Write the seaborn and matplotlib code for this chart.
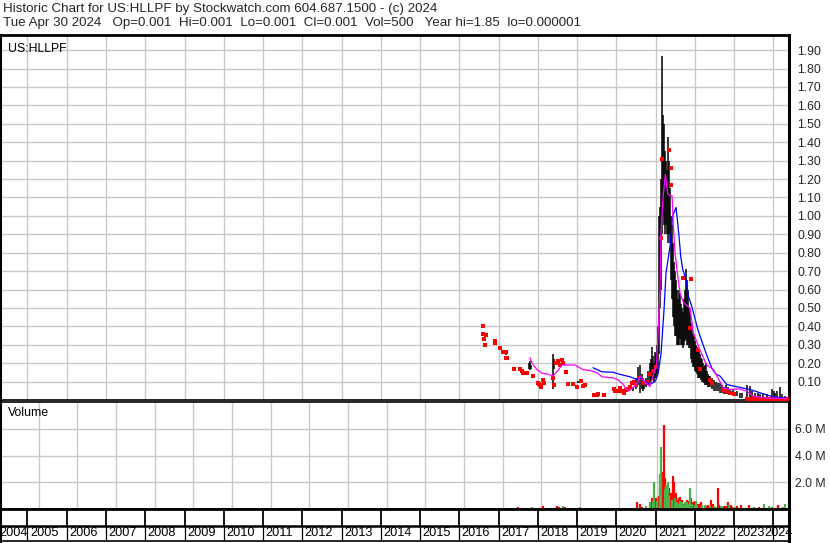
import matplotlib
matplotlib.use("Agg")
import matplotlib.pyplot as plt
import seaborn as sns
import pandas as pd

# ---------------- data (decimal years) ----------------
years = list(range(2004, 2025))
price_ticks = [0.10, 0.20, 0.30, 0.40, 0.50, 0.60, 0.70, 0.80, 0.90, 1.00,
               1.10, 1.20, 1.30, 1.40, 1.50, 1.60, 1.70, 1.80, 1.90]
vol_ticks = [2e6, 4e6, 6e6]
vol_tick_labels = ["2.0 M", "4.0 M", "6.0 M"]

# high/low price bars
bar_year = [2017.183, 2017.770, 2017.795, 2017.820, 2018.389, 2018.420, 2019.018, 2019.415,
            2019.925, 2020.419, 2020.504, 2020.529, 2020.554, 2020.605, 2020.656, 2020.680,
            2020.707, 2020.758, 2020.809, 2020.860, 2020.885, 2020.911, 2020.936, 2020.962,
            2020.988, 2021.013, 2021.040, 2021.064, 2021.090, 2021.115, 2021.140, 2021.166,
            2021.191, 2021.217, 2021.242, 2021.268, 2021.293, 2021.319, 2021.344, 2021.370,
            2021.395, 2021.421, 2021.446, 2021.472, 2021.497, 2021.523, 2021.548, 2021.574,
            2021.599, 2021.625, 2021.650, 2021.676, 2021.701, 2021.726, 2021.752, 2021.777,
            2021.800, 2021.828, 2021.850, 2021.879, 2021.905, 2021.930, 2021.956, 2021.981,
            2022.007, 2022.032, 2022.060, 2022.083, 2022.110, 2022.134, 2022.160, 2022.185,
            2022.211, 2022.236, 2022.260, 2022.287, 2022.312, 2022.338, 2022.360, 2022.389,
            2022.440, 2022.491, 2022.542, 2022.593, 2022.644, 2022.695, 2022.746, 2022.797,
            2022.847, 2022.898, 2022.975, 2023.077, 2023.153, 2023.200, 2023.320, 2023.408,
            2023.450, 2023.536, 2023.600, 2023.663, 2023.750, 2023.841, 2023.960, 2024.019,
            2024.050, 2024.090, 2024.172, 2024.230, 2024.299]
bar_low = [0.245, 0.17, 0.165, 0.17, 0.06, 0.17, 0.09, 0.02,
           0.05, 0.05, 0.06, 0.07, 0.08, 0.04, 0.06, 0.05,
           0.06, 0.07, 0.08, 0.09, 0.10, 0.12, 0.11, 0.10,
           0.12, 0.12, 0.14, 0.15, 0.25, 0.50, 0.60, 0.90,
           1.00, 0.95, 0.90, 0.95, 0.90, 0.85, 0.90, 0.85,
           0.65, 0.55, 0.45, 0.40, 0.35, 0.35, 0.30, 0.30,
           0.30, 0.33, 0.30, 0.30, 0.28, 0.30, 0.32, 0.33,
           0.30, 0.30, 0.28, 0.28, 0.22, 0.20, 0.18, 0.18,
           0.16, 0.15, 0.14, 0.12, 0.12, 0.12, 0.11, 0.10,
           0.10, 0.09, 0.08, 0.08, 0.08, 0.07, 0.07, 0.07,
           0.06, 0.05, 0.05, 0.05, 0.04, 0.04, 0.03, 0.03,
           0.03, 0.03, 0.02, 0.02, 0.01, 0.01, 0.00, 0.01,
           0.01, 0.01, 0.005, 0.005, 0.005, 0.005, 0.005, 0.005,
           0.005, 0.005, 0.005, 0.005, 0.005]
bar_high = [0.265, 0.20, 0.21, 0.19, 0.25, 0.22, 0.105, 0.03,
            0.06, 0.07, 0.12, 0.10, 0.18, 0.19, 0.14, 0.12,
            0.10, 0.12, 0.16, 0.20, 0.22, 0.29, 0.24, 0.20,
            0.26, 0.25, 0.30, 0.40, 1.00, 1.05, 1.20, 1.87,
            1.55, 1.50, 1.35, 1.30, 1.25, 1.43, 1.30, 1.15,
            1.00, 0.95, 0.85, 0.75, 0.70, 0.65, 0.60, 0.55,
            0.60, 0.58, 0.52, 0.50, 0.48, 0.55, 0.60, 0.71,
            0.65, 0.60, 0.50, 0.48, 0.42, 0.40, 0.36, 0.35,
            0.32, 0.30, 0.29, 0.28, 0.26, 0.25, 0.23, 0.22,
            0.20, 0.18, 0.19, 0.20, 0.16, 0.14, 0.13, 0.13,
            0.12, 0.11, 0.10, 0.09, 0.09, 0.08, 0.07, 0.08,
            0.07, 0.06, 0.06, 0.05, 0.04, 0.04, 0.08, 0.075,
            0.05, 0.04, 0.04, 0.03, 0.03, 0.03, 0.06, 0.05,
            0.04, 0.05, 0.07, 0.03, 0.02]

# single-trade / down-day closes (red squares)
dot_year = [2016.605, 2016.605, 2016.682, 2016.630, 2016.656, 2016.911, 2016.911, 2017.038,
            2017.115, 2017.191, 2017.191, 2017.217, 2017.395, 2017.548, 2017.599, 2017.624,
            2017.726, 2017.879, 2018.000, 2018.030, 2018.058, 2018.083, 2018.134, 2018.160,
            2018.400, 2018.420, 2018.470, 2018.520, 2018.567, 2018.618, 2018.644, 2018.720,
            2018.771, 2018.898, 2019.000, 2019.102, 2019.153, 2019.204, 2019.433, 2019.510,
            2019.535, 2019.688, 2019.943, 2019.970, 2020.045, 2020.100, 2020.150, 2020.200,
            2020.250, 2020.300, 2020.350, 2020.400, 2020.450, 2020.500, 2020.580, 2020.700,
            2020.780, 2020.850, 2020.930, 2021.000, 2021.140, 2021.178, 2021.344, 2021.387,
            2021.404, 2021.701, 2021.905, 2021.870, 2022.083, 2022.134, 2022.389, 2022.440,
            2022.720, 2022.805, 2022.900, 2023.000, 2023.330, 2023.400, 2023.480, 2023.560,
            2023.640, 2023.720, 2023.800, 2023.880, 2023.960, 2024.040, 2024.120, 2024.200,
            2024.280, 2024.340]
dot_price = [0.40, 0.36, 0.355, 0.33, 0.30, 0.32, 0.31, 0.285,
             0.26, 0.26, 0.23, 0.23, 0.17, 0.17, 0.155, 0.145,
             0.145, 0.13, 0.09, 0.085, 0.08, 0.07, 0.11, 0.09,
             0.12, 0.08, 0.20, 0.21, 0.19, 0.215, 0.20, 0.15,
             0.085, 0.085, 0.07, 0.105, 0.075, 0.08, 0.025, 0.025,
             0.03, 0.025, 0.06, 0.05, 0.05, 0.065, 0.05, 0.04,
             0.055, 0.06, 0.07, 0.09, 0.10, 0.08, 0.12, 0.09,
             0.10, 0.14, 0.16, 0.18, 0.88, 1.31, 1.36, 1.26,
             1.165, 0.665, 0.655, 0.39, 0.27, 0.166, 0.11, 0.09,
             0.057, 0.05, 0.04, 0.03, 0.005, 0.005, 0.005, 0.005,
             0.005, 0.005, 0.005, 0.005, 0.005, 0.005, 0.005, 0.005,
             0.005, 0.005]

# short moving average (magenta)
ma_short_year = [2017.803, 2017.854, 2017.981, 2018.109, 2018.261, 2018.389, 2018.491, 2018.618,
                 2018.822, 2018.949, 2019.153, 2019.331, 2019.510, 2019.637, 2019.917, 2020.045,
                 2020.172, 2020.300, 2020.427, 2020.554, 2020.605, 2020.733, 2020.860, 2021.030,
                 2021.115, 2021.140, 2021.191, 2021.252, 2021.310, 2021.370, 2021.421, 2021.455,
                 2021.497, 2021.556, 2021.625, 2021.710, 2021.812, 2021.879, 2021.965, 2022.134,
                 2022.304, 2022.474, 2022.728, 2022.898, 2023.153, 2023.323, 2023.493, 2023.833,
                 2024.350]
ma_short_val = [0.23, 0.20, 0.165, 0.145, 0.14, 0.13, 0.155, 0.19,
                0.19, 0.19, 0.165, 0.16, 0.148, 0.126, 0.12, 0.11,
                0.085, 0.048, 0.066, 0.10, 0.13, 0.095, 0.073, 0.20,
                0.60, 0.91, 1.10, 1.225, 1.12, 1.11, 1.11, 0.945,
                0.80, 0.69, 0.58, 0.53, 0.51, 0.50, 0.365, 0.27,
                0.19, 0.166, 0.066, 0.057, 0.06, 0.048, 0.02, 0.01,
                0.008]

# long moving average (blue)
ma_long_year = [2019.408, 2019.637, 2019.917, 2020.096, 2020.351, 2020.529, 2020.605, 2020.733,
                2020.860, 2020.988, 2021.064, 2021.140, 2021.217, 2021.268, 2021.370, 2021.438,
                2021.523, 2021.556, 2021.607, 2021.642, 2021.692, 2021.777, 2021.837, 2021.921,
                2022.083, 2022.211, 2022.312, 2022.440, 2022.542, 2022.644, 2022.814, 2023.069,
                2023.408, 2023.739, 2023.994, 2024.350]
ma_long_val = [0.175, 0.153, 0.151, 0.139, 0.126, 0.111, 0.12, 0.10,
               0.085, 0.10, 0.14, 0.25, 0.49, 0.69, 0.835, 1.00,
               1.046, 0.98, 0.87, 0.78, 0.71, 0.655, 0.565, 0.51,
               0.38, 0.30, 0.24, 0.17, 0.14, 0.13, 0.084, 0.072,
               0.057, 0.034, 0.017, 0.01]

# volume bars (millions of shares) and day direction
vol_year = [2016.58, 2016.70, 2016.80, 2016.95, 2017.05, 2017.20, 2017.30, 2017.40,
            2017.55, 2017.65, 2017.75, 2017.85, 2018.03, 2018.10, 2018.40, 2018.45,
            2018.50, 2018.55, 2018.62, 2018.75, 2018.90, 2019.00, 2019.10, 2019.20,
            2019.45, 2019.70, 2019.80, 2019.95, 2020.05, 2020.20, 2020.35, 2020.48,
            2020.554, 2020.605, 2020.70, 2020.809, 2020.860, 2020.885, 2020.911, 2020.962,
            2020.988, 2021.031, 2021.064, 2021.097, 2021.133, 2021.158, 2021.184, 2021.199,
            2021.224, 2021.260, 2021.286, 2021.311, 2021.344, 2021.370, 2021.413, 2021.439,
            2021.472, 2021.497, 2021.540, 2021.581, 2021.625, 2021.668, 2021.709, 2021.752,
            2021.795, 2021.835, 2021.879, 2021.922, 2021.963, 2022.007, 2022.050, 2022.134,
            2022.218, 2022.305, 2022.389, 2022.473, 2022.575, 2022.644, 2022.728, 2022.814,
            2022.898, 2022.983, 2023.153, 2023.237, 2023.365, 2023.492, 2023.620, 2023.747,
            2023.874, 2024.002, 2024.129, 2024.241, 2024.299,
            2021.045, 2021.075, 2021.110, 2021.172, 2021.212, 2021.236, 2021.248, 2021.273,
            2021.298, 2021.324, 2021.357, 2021.385, 2021.400, 2021.426, 2021.452, 2021.485,
            2021.510, 2021.525, 2021.555, 2021.568, 2021.595, 2021.610, 2021.640, 2021.655,
            2021.720, 2021.770, 2021.810, 2021.850, 2021.900, 2021.940, 2021.980, 2022.030,
            2022.090, 2022.160, 2022.250, 2022.350, 2022.430, 2022.520, 2022.600, 2022.680,
            2022.770, 2022.850, 2022.940, 2023.050, 2023.300, 2023.550, 2023.700, 2023.950,
            2024.180]
vol_m = [0.10, 0.08, 0.10, 0.10, 0.09, 0.10, 0.08, 0.12,
         0.09, 0.10, 0.12, 0.10, 0.20, 0.10, 0.25, 0.18,
         0.10, 0.20, 0.12, 0.10, 0.08, 0.15, 0.10, 0.10,
         0.08, 0.08, 0.08, 0.10, 0.08, 0.10, 0.10, 0.55,
         0.40, 0.15, 0.20, 0.50, 0.80, 0.60, 2.05, 0.80,
         0.60, 1.00, 2.60, 4.60, 2.80, 6.30, 2.30, 1.50,
         1.10, 2.00, 1.40, 1.00, 1.20, 0.70, 2.50, 1.50,
         1.20, 0.50, 0.60, 0.90, 0.50, 0.40, 0.50, 0.70,
         0.40, 1.60, 0.80, 0.50, 0.30, 0.60, 0.40, 0.50,
         0.30, 0.30, 0.70, 0.20, 1.60, 0.20, 0.25, 0.50,
         0.30, 0.12, 0.30, 0.10, 0.30, 0.15, 0.15, 0.35,
         0.20, 0.10, 0.30, 0.15, 0.35,
         0.90, 1.50, 1.20, 1.60, 1.80, 0.80, 1.30, 0.90,
         1.60, 0.60, 1.00, 0.50, 1.30, 2.00, 0.80, 0.90,
         0.70, 0.40, 0.80, 0.30, 0.60, 0.50, 0.70, 0.30,
         0.40, 0.50, 0.60, 0.50, 0.40, 0.30, 0.60, 0.30,
         0.35, 0.30, 0.25, 0.20, 0.40, 0.15, 0.30, 0.15,
         0.20, 0.30, 0.15, 0.20, 0.10, 0.10, 0.10, 0.15,
         0.10]
vol_dir = ['up', 'down', 'down', 'down', 'down', 'down', 'up', 'down',
           'down', 'down', 'up', 'down', 'down', 'down', 'down', 'down',
           'up', 'up', 'down', 'down', 'up', 'up', 'up', 'down',
           'down', 'up', 'down', 'down', 'down', 'down', 'down', 'down',
           'down', 'down', 'up', 'up', 'down', 'up', 'up', 'down',
           'up', 'down', 'up', 'up', 'down', 'down', 'down', 'up',
           'down', 'up', 'down', 'up', 'down', 'up', 'down', 'down',
           'down', 'up', 'down', 'down', 'up', 'down', 'up', 'down',
           'up', 'up', 'down', 'down', 'up', 'up', 'down', 'down',
           'up', 'down', 'down', 'up', 'down', 'up', 'down', 'down',
           'down', 'up', 'down', 'down', 'down', 'up', 'down', 'up',
           'up', 'down', 'down', 'up', 'up',
           'down', 'up', 'down', 'down', 'up', 'down', 'down', 'up',
           'down', 'down', 'down', 'up', 'down', 'down', 'up', 'down',
           'down', 'up', 'down', 'up', 'up', 'down', 'down', 'up',
           'down', 'up', 'down', 'down', 'up', 'down', 'down', 'up',
           'down', 'up', 'down', 'up', 'down', 'up', 'down', 'up',
           'down', 'up', 'down', 'down', 'up', 'down', 'up', 'up',
           'up']

header1 = "Historic Chart for US:HLLPF by Stockwatch.com 604.687.1500 - (c) 2024"
header2 = ("Tue Apr 30 2024   Op=0.001  Hi=0.001  Lo=0.001  Cl=0.001  "
           "Vol=500   Year hi=1.85  lo=0.000001")
symbol = "US:HLLPF"

# ---------------- layout ----------------
sns.set_theme(style="white")
plt.rcParams['font.family'] = ['Liberation Sans', 'DejaVu Sans']

W, H = 830, 543
fig = plt.figure(figsize=(W / 100, H / 100), dpi=100)
fig.patch.set_facecolor('white')


def fx(px):
    return px / W


def fy(py):
    return 1 - py / H


X0, X1 = 2004.2994, 2024.401
PX_PER_YEAR = 39.25
GRID = '#c8c8c8'
FS = 8.8

ax = fig.add_axes([0, fy(400), fx(789), fy(35) - fy(400)])
axv = fig.add_axes([0, fy(509), fx(789), fy(402) - fy(509)])
axl = fig.add_axes([0, fy(541), fx(789), fy(509) - fy(541)])

for a in (ax, axv, axl):
    a.set_facecolor('white')
    a.set_xlim(X0, X1)
    for s in a.spines.values():
        s.set_color('black')
        s.set_linewidth(1.2)
    a.spines['right'].set_linewidth(2.2)
    a.spines['left'].set_linewidth(2.2)

ax.spines['top'].set_linewidth(2.0)
axl.spines['top'].set_linewidth(2.0)

# ---- price panel ----
ax.set_ylim(0, 1.982)
ax.set_xticks(years)
ax.set_yticks(price_ticks)
ax.grid(True, color=GRID, linewidth=1.0)
ax.set_axisbelow(True)
ax.tick_params(axis='both', length=0)
ax.set_xticklabels([])
ax.yaxis.tick_right()
ax.set_yticklabels([f"{v:.2f}" for v in price_ticks], fontsize=FS)
ax.tick_params(axis='y', pad=6)

ax.vlines(bar_year, bar_low, bar_high, color='black', linewidth=1.1, zorder=3)
dots = pd.DataFrame({'year': dot_year, 'price': dot_price})
sns.scatterplot(data=dots, x='year', y='price', ax=ax, color='#ff0000', marker='s',
                s=6, linewidth=0, zorder=4, legend=False)
mas = pd.DataFrame({'year': ma_short_year, 'val': ma_short_val})
mal = pd.DataFrame({'year': ma_long_year, 'val': ma_long_val})
sns.lineplot(data=mal, x='year', y='val', ax=ax, color='#0000ff', linewidth=0.9,
             sort=False, estimator=None, zorder=5)
sns.lineplot(data=mas, x='year', y='val', ax=ax, color='#ff00ff', linewidth=0.9,
             sort=False, estimator=None, zorder=6)
ax.set_xlabel('')
ax.set_ylabel('')
ax.set_xlim(X0, X1)
ax.set_ylim(0, 1.982)
ax.text(8 / 789, 1 - 8 / 365, symbol, transform=ax.transAxes, fontsize=FS,
        va='top', ha='left', color='black')

# ---- volume panel ----
vol = pd.DataFrame({'year': vol_year, 'v': [m * 1e6 for m in vol_m], 'dir': vol_dir})
axv.set_ylim(0, 8.0e6)
axv.set_xticks(years)
axv.set_yticks(vol_ticks)
axv.grid(True, color=GRID, linewidth=1.0)
axv.set_axisbelow(True)
axv.tick_params(axis='both', length=0)
axv.set_xticklabels([])
axv.yaxis.tick_right()
axv.set_yticklabels(vol_tick_labels, fontsize=FS)
axv.tick_params(axis='y', pad=4)
colors = {'up': '#4cb04c', 'down': '#ff0000'}
for d, grp in vol.groupby('dir'):
    axv.vlines(grp['year'], 0, grp['v'], color=colors[d], linewidth=1.6, zorder=3)
axv.text(8 / 789, 1 - 5 / 107, "Volume", transform=axv.transAxes, fontsize=FS,
         va='top', ha='left', color='black')

# ---- year label band ----
axl.set_ylim(0, 1)
axl.set_xticks([])
axl.set_yticks([])
mid = 15 / 32
axl.axhline(mid, color='black', linewidth=1.8)
for y in years[1:]:
    axl.plot([y, y], [mid, 1], color='black', linewidth=1.3)
    axl.plot([y, y], [0, mid], color='black', linewidth=0.9)
for y in years:
    if y == years[0]:
        axl.text(X0 - 1 / PX_PER_YEAR, mid / 2, str(y), fontsize=9.2, va='center',
                 ha='left', color='black', clip_on=True)
    elif y == years[-1]:
        axl.text(X0 + 793 / PX_PER_YEAR, mid / 2, str(y), fontsize=9.2, va='center',
                 ha='right', color='black', clip_on=False)
    else:
        axl.text(y + 2.5 / PX_PER_YEAR, mid / 2, str(y), fontsize=9.2, va='center',
                 ha='left', color='black', clip_on=True)

# ---- header ----
fig.text(fx(3), fy(9), header1, fontsize=9.6, va='center', ha='left')
fig.text(fx(3), fy(23), header2, fontsize=9.6, va='center', ha='left')

fig.savefig('out.png', dpi=100, facecolor='white')
